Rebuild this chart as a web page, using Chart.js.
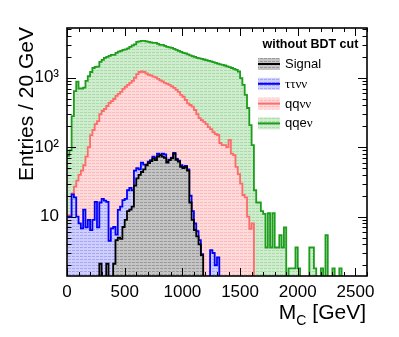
<!DOCTYPE html>
<html>
<head>
<meta charset="utf-8">
<script src="https://cdn.jsdelivr.net/npm/chart.js@4"></script>
<style>
  html, body { margin: 0; padding: 0; background: #fff; }
  canvas { display: block; }
</style>
</head>
<body>
<canvas id="myChart" width="399" height="337"></canvas>
<script>
// 20 GeV bins starting at 0 GeV; values are the stacked heights as drawn
var binWidth = 20;
var xTicks = [0, 500, 1000, 1500, 2000, 2500];
var yTicks = [10, 100, 1000];
var yTickLabels = ['10', '10\u00b2', '10\u00b3'];
var legendTitle = 'without BDT cut';
var seriesNames = ['Signal', '\u03c4\u03c4\u03bd\u03bd', 'qq\u03bd\u03bd', 'qqe\u03bd'];

var signal = [0, 0, 0, 0, 0, 0, 0, 0, 0, 0,
  0, 0, 0, 0, 2.1, 0, 0, 2.1, 0, 0,
  2.1, 4.6, 5, 4.8, 7.1, 9, 12, 12.6, 14, 28,
  35.5, 40, 44, 48, 55, 59, 63, 69, 65, 73,
  77, 73, 70, 60, 65, 69, 81, 66, 62, 52,
  50, 52, 46, 16, 9, 6.4, 5.2, 4, 2.8];

var tautau = [10, 10, 21, 19, 10, 8, 6.8, 12.6, 7, 9,
  6.4, 9, 16.3, 7, 16, 18, 17, 16.3, 4.5, 6.8,
  7.1, 5.5, 12.5, 14, 17.3, 18, 24, 26, 24, 46,
  50, 48, 60, 56, 56, 62, 65, 73, 70, 81,
  77, 81, 79, 62, 66, 71, 83, 68, 64, 55,
  52, 54, 48, 20, 12, 8, 6.2, 4.6, 2.9, 0,
  0, 0, 3.3, 3, 2, 2.6];

var qqnunu = [10.5, 10.5, 21.6, 27, 33, 40, 46, 55, 73, 100,
  149, 177, 215, 238, 300, 332, 355, 392, 433, 462,
  494, 547, 584, 624, 690, 737, 787, 841, 899, 993,
  1130, 1210, 1230, 1210, 1150, 1100, 1080, 1040, 1010, 960,
  914, 884, 841, 814, 787, 749, 713, 667, 624, 565,
  533, 478, 428, 405, 383, 343, 300, 263, 246, 231,
  215, 195, 182, 165, 155, 150, 115, 107, 107, 100,
  127, 81, 77, 52, 41, 30, 20.5, 19, 10, 6.7,
  8];

var qqenu = [75, 90, 280, 640, 880, 700, 700, 720, 900, 1050,
  1210, 1380, 1430, 1450, 1690, 1810, 1930, 2000, 2060, 2130,
  2130, 2280, 2380, 2430, 2520, 2560, 2650, 2780, 2930, 3030,
  3290, 3340, 3400, 3400, 3340, 3290, 3230, 3180, 3180, 3070,
  2970, 2970, 2870, 2780, 2740, 2690, 2600, 2520, 2430, 2360,
  2280, 2240, 2170, 2100, 2040, 2000, 1930, 1900, 1870, 1830,
  1790, 1750, 1720, 1680, 1640, 1600, 1560, 1530, 1500, 1460,
  1420, 1380, 1340, 1300, 1230, 990, 787, 565, 367, 208,
  107, 24, 16, 16, 12, 11, 3.6, 11.2, 3.6, 11.2,
  3.6, 3.6, 5.4, 3.6, 7, 0, 1.8, 1.8, 1.8, 3.6,
  1.8, 0, 0, 0, 0, 3.6, 3.6, 1.8, 0, 0,
  1.8, 0, 5.4, 0, 0, 1.8, 0, 0, 1.8];

var FONT = "'Liberation Sans', Arial, sans-serif";
var SERIF = "'Liberation Serif', 'Times New Roman', serif";

// root-ish hatched fill
function hatch(bg, fg) {
  var c = document.createElement('canvas');
  c.width = 4; c.height = 3;
  var g = c.getContext('2d');
  g.fillStyle = bg; g.fillRect(0, 0, 4, 3);
  g.fillStyle = fg; g.fillRect(0, 1, 3, 1);
  return g.createPattern(c, 'repeat');
}

// histogram -> step points at the low edge of every bin
function steps(vals) {
  var pts = vals.map(function (v, i) {
    return { x: i * binWidth, y: v > 0 ? v : 0.3 };
  });
  pts.push({ x: vals.length * binWidth, y: 0.3 });
  return pts;
}

var lineColors = ['#000000', '#0000ff', '#ff6b6b', '#1c9e1c'];
var fills = [
  hatch('#c4c4c4', '#9a9a9a'),
  hatch('#cfcfff', '#a6a6f5'),
  hatch('#ffdada', '#ffb9b9'),
  hatch('#cfeccf', '#a9dca9')
];
var series = [signal, tautau, qqnunu, qqenu];

var datasets = series.map(function (s, i) {
  return {
    label: seriesNames[i],
    data: steps(s),
    stepped: true,
    borderColor: lineColors[i],
    borderWidth: 1.8,
    backgroundColor: fills[i],
    fill: 'start',
    pointRadius: 0,
    clip: 0
  };
});

function drawMixed(ctx, text, x, y, size) {
  for (var i = 0; i < text.length; i++) {
    var ch = text[i];
    ctx.font = size + 'px ' + (/[\u0370-\u03ff]/.test(ch) ? SERIF : FONT);
    ctx.fillText(ch, x, y);
    x += ctx.measureText(ch).width;
  }
}

var decorations = {
  id: 'decorations',
  afterDatasetsDraw: function (chart) {
    var ctx = chart.ctx, a = chart.chartArea;
    var xs = chart.scales.x, ys = chart.scales.y;
    ctx.save();
    ctx.strokeStyle = '#000';
    ctx.lineWidth = 1;
    ctx.beginPath();
    // x ticks, bottom and top, pointing inward
    for (var v = 0; v <= xs.max; v += 100) {
      var px = Math.round(xs.getPixelForValue(v)) + 0.5;
      var len = v % 500 === 0 ? 8 : 4;
      ctx.moveTo(px, a.bottom); ctx.lineTo(px, a.bottom - len);
      ctx.moveTo(px, a.top); ctx.lineTo(px, a.top + len);
    }
    // log y ticks, left and right
    for (var e = 0; e <= 3; e++) {
      for (var k = 1; k <= 9; k++) {
        var val = k * Math.pow(10, e);
        if (val < ys.min || val > ys.max) continue;
        var py = Math.round(ys.getPixelForValue(val)) + 0.5;
        var l = k === 1 ? 9 : 4.5;
        ctx.moveTo(a.left, py); ctx.lineTo(a.left + l, py);
        ctx.moveTo(a.right, py); ctx.lineTo(a.right - l, py);
      }
    }
    ctx.stroke();
    ctx.lineWidth = 1.6;
    ctx.strokeRect(a.left, a.top, a.right - a.left, a.bottom - a.top);

    // legend
    ctx.fillStyle = '#000';
    ctx.textBaseline = 'middle';
    ctx.textAlign = 'left';
    ctx.font = 'bold 12.5px ' + FONT;
    ctx.fillText(legendTitle, 262.5, 44.5);
    for (var i = 0; i < seriesNames.length; i++) {
      var cy = 64 + i * 19.8;
      ctx.fillStyle = fills[i];
      ctx.fillRect(258, cy - 6, 22, 12);
      ctx.strokeStyle = lineColors[i];
      ctx.lineWidth = 2;
      ctx.beginPath();
      ctx.moveTo(258, cy); ctx.lineTo(280, cy);
      ctx.stroke();
      ctx.fillStyle = '#000';
      drawMixed(ctx, seriesNames[i], 285, cy + 0.5, 13);
    }

    // axis titles
    ctx.font = '21px ' + FONT;
    ctx.textBaseline = 'alphabetic';
    ctx.save();
    ctx.translate(33, 27);
    ctx.rotate(-Math.PI / 2);
    ctx.textAlign = 'right';
    ctx.fillText('Entries / 20 GeV', 0, 0);
    ctx.restore();

    var big = '21px ' + FONT, small = '14px ' + FONT;
    ctx.font = big; var wM = ctx.measureText('M').width;
    var wRest = ctx.measureText(' [GeV]').width;
    ctx.font = small; var wC = ctx.measureText('C').width;
    var x0 = 366 - (wM + wC + wRest), base = 318.5;
    ctx.textAlign = 'left';
    ctx.font = big; ctx.fillText('M', x0, base);
    ctx.font = small; ctx.fillText('C', x0 + wM, base + 6);
    ctx.font = big; ctx.fillText(' [GeV]', x0 + wM + wC, base);
    ctx.restore();
  }
};

var ctx = document.getElementById('myChart');

var myChart = new Chart(ctx, {
  type: 'line',
  data: { datasets: datasets },
  options: {
    responsive: false,
    animation: false,
    devicePixelRatio: 1,
    layout: { padding: { top: 28, right: 32, left: 0, bottom: 0 } },
    plugins: { legend: { display: false }, tooltip: { enabled: false } },
    scales: {
      x: {
        type: 'linear',
        min: 0,
        max: 2600,
        afterBuildTicks: function (s) { s.ticks = xTicks.map(function (v) { return { value: v }; }); },
        afterFit: function (s) { s.height = 61; },
        grid: { display: false, drawTicks: false },
        border: { display: false },
        ticks: {
          color: '#000',
          font: { family: FONT, size: 17 },
          padding: 6,
          maxRotation: 0,
          autoSkip: false,
          callback: function (v) { return String(v); }
        }
      },
      y: {
        type: 'logarithmic',
        min: 1.4,
        max: 5200,
        afterBuildTicks: function (s) { s.ticks = yTicks.map(function (v) { return { value: v }; }); },
        afterFit: function (s) { s.width = 67; },
        grid: { display: false, drawTicks: false },
        border: { display: false },
        ticks: {
          color: '#000',
          font: { family: FONT, size: 17 },
          padding: 8,
          autoSkip: false,
          callback: function (v) { return yTickLabels[yTicks.indexOf(v)]; }
        }
      }
    }
  },
  plugins: [decorations]
});
</script>
</body>
</html>
